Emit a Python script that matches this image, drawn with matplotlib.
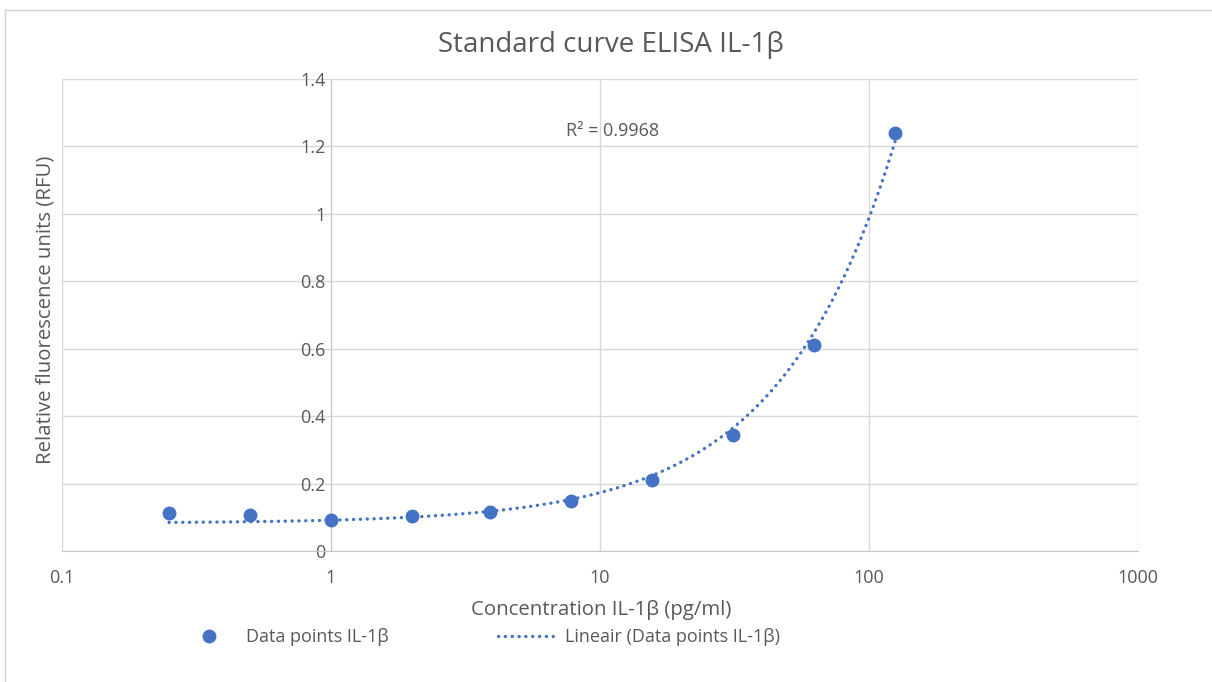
import numpy as np
import matplotlib
matplotlib.use('Agg')
import matplotlib.pyplot as plt
from matplotlib.lines import Line2D

# standard curve values
conc = [0.25, 0.5, 1, 2, 3.9, 7.8, 15.6, 31.25, 62.5, 125]
rfu = [0.113, 0.107, 0.092, 0.104, 0.116, 0.148, 0.211, 0.344, 0.611, 1.240]
r2_label = 'R² = 0.9968'
x_ticks = [0.1, 1, 10, 100, 1000]
x_ticklabels = ['0.1', '1', '10', '100', '1000']
y_ticks = [0, 0.2, 0.4, 0.6, 0.8, 1, 1.2, 1.4]
y_ticklabels = ['0', '0.2', '0.4', '0.6', '0.8', '1', '1.2', '1.4']

blue = '#4472C4'
txt = '#595959'
grid = '#D9D9D9'

plt.rcParams['font.family'] = ['Open Sans', 'DejaVu Sans']

fig = plt.figure(figsize=(12.12, 6.82), dpi=100)
ax = fig.add_axes([62/1212, 1 - 551/682, (1138 - 62)/1212, (551 - 79)/682])

# linear trendline (Excel "Lineair"), drawn on the log axis
a, b = np.polyfit(conc, rfu, 1)
xs = np.logspace(np.log10(conc[0]), np.log10(conc[-1]), 400)
trend, = ax.plot(xs, a*xs + b, color=blue, lw=2.4, linestyle=(0, (0.05, 2.0)),
                 dash_capstyle='round', zorder=3)
pts, = ax.plot(conc, rfu, 'o', color=blue, ms=9, zorder=4)

ax.set_xscale('log')
ax.set_xlim(0.1, 1000)
ax.set_ylim(0, 1.4)
ax.set_xticks(x_ticks)
ax.set_xticklabels(x_ticklabels)
ax.set_yticks(y_ticks)
ax.set_yticklabels(y_ticklabels)
ax.minorticks_off()
ax.tick_params(length=0, labelsize=13, labelcolor=txt)
ax.tick_params(axis='x', pad=13)
ax.tick_params(axis='y', pad=4)

ax.grid(True, color=grid, lw=1)
ax.set_axisbelow(True)
for s in ['top', 'right']:
    ax.spines[s].set_visible(False)
ax.spines['left'].set_position(('data', 1))
ax.spines['left'].set_color('#C8C8C8')
ax.spines['bottom'].set_color('#C8C8C8')

ax.text(7.5, 1.246, r2_label, fontsize=13, color=txt, ha='left', va='center')

fig.text(611/1212, 1 - 45/682, 'Standard curve ELISA IL-1β', fontsize=20,
         color=txt, ha='center', va='center')
fig.text(601/1212, 1 - 610/682, 'Concentration IL-1β (pg/ml)', fontsize=14.7,
         color=txt, ha='center', va='center')
fig.text(46/1212, 1 - 310/682, 'Relative fluorescence units (RFU)', fontsize=14.7,
         color=txt, ha='center', va='center', rotation=90)

# legend entries placed separately, as in the Excel layout
leg1 = fig.legend([pts], ['Data points IL-1β'], loc='center left', frameon=False,
                  bbox_to_anchor=(187/1212, 1 - 637/682), fontsize=13,
                  borderaxespad=0, borderpad=0, handlelength=2.4, handletextpad=0.85)
leg2 = fig.legend([trend], ['Lineair (Data points IL-1β)'], loc='center left',
                  frameon=False, bbox_to_anchor=(498/1212, 1 - 637/682), fontsize=13,
                  borderaxespad=0, borderpad=0, handlelength=3.3, handletextpad=0.4)
for lg in (leg1, leg2):
    for t in lg.get_texts():
        t.set_color(txt)

# outer chart frame
fig.add_artist(Line2D([5/1212, 1], [1 - 10/682, 1 - 10/682], color='#D0D0D0', lw=1))
fig.add_artist(Line2D([5/1212, 5/1212], [0, 1 - 10/682], color='#D0D0D0', lw=1))

fig.savefig('out.png', dpi=100)
